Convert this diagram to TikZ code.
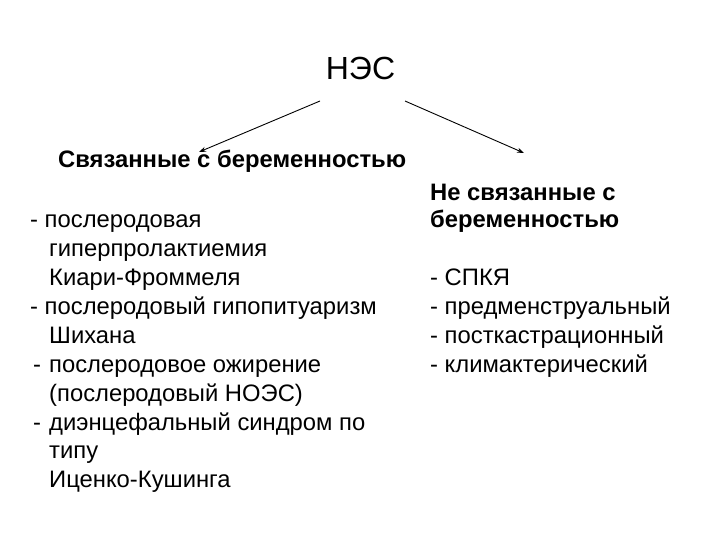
\documentclass[tikz,border=0pt]{standalone}
\usepackage{fontspec}
\setmainfont{Liberation Sans}
\usetikzlibrary{arrows.meta}
\begin{document}
\begin{tikzpicture}[x=1pt,y=-1pt,
  body/.style={anchor=base west,inner sep=0pt,font=\fontsize{23.8}{28}\selectfont},
  head/.style={anchor=base west,inner sep=0pt,font=\fontsize{23.8}{28}\selectfont\bfseries},
  conn/.style={line width=0.9pt,-{Stealth[length=7pt,width=5pt]}}]
\useasboundingbox (0,0) rectangle (720,540);
\fill[white] (0,0) rectangle (720,540);
\node[anchor=base,inner sep=0pt,font=\fontsize{32}{36}\selectfont] (nes) at (360.5,80) {НЭС};
\coordinate (s1) at (320,101);
\coordinate (s2) at (405,101);
\node[head] (h1) at (58,168) {Связанные с беременностью};
\node[head] (h2a) at (430,201) {Не связанные с};
\node[head] (h2b) at (430,228) {беременностью};
\coordinate (e1) at (199,152);
\coordinate (e2) at (524,153);
\draw[conn] (s1) -- (e1);
\draw[conn] (s2) -- (e2);
% left list
\node[body] (l1) at (30,227) {- послеродовая};
\node[body] (l2) at (49,256) {гиперпролактиемия};
\node[body] (l3) at (49,285) {Киари-Фроммеля};
\node[body] (l4) at (30,314) {- послеродовый гипопитуаризм};
\node[body] (l5) at (49,343) {Шихана};
\node[body] (l6d) at (33,372) {-};
\node[body] (l6) at (49,372) {послеродовое ожирение};
\node[body] (l7) at (49,401) {(послеродовый НОЭС)};
\node[body] (l8d) at (33,430) {-};
\node[body] (l8) at (49,430) {диэнцефальный синдром по};
\node[body] (l9) at (49,458) {типу};
\node[body] (l10) at (49,487) {Иценко-Кушинга};
% right list
\node[body] (r1) at (430,285) {- СПКЯ};
\node[body] (r2) at (430,314) {- предменструальный};
\node[body] (r3) at (430,343) {- посткастрационный};
\node[body] (r4) at (430,372) {- климактерический};
\end{tikzpicture}
\end{document}
